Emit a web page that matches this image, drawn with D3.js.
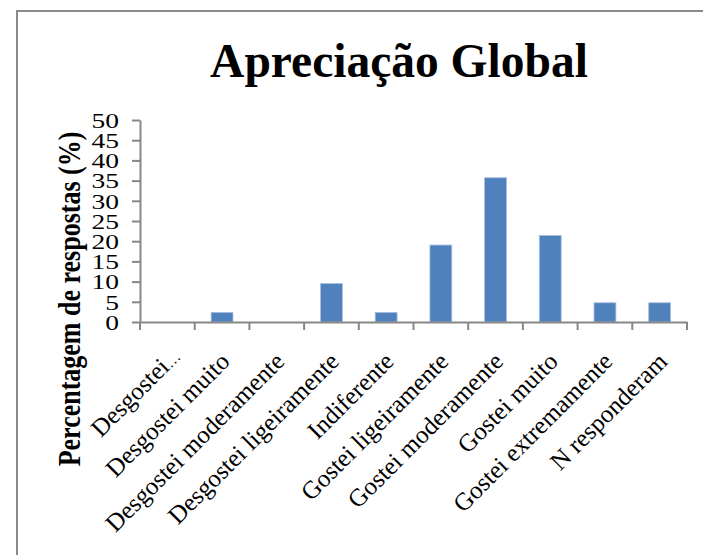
<!DOCTYPE html>
<html>
<head>
<meta charset="utf-8">
<script src="https://cdn.jsdelivr.net/npm/d3@7"></script>
<style>
  body { margin: 0; background: #fff; }
  svg { display: block; }
  text { font-family: "Liberation Serif", "Times New Roman", serif; fill: #000; }
</style>
</head>
<body>
<svg id="chart" width="703" height="555"></svg>
<script>
// Survey answers: share of respondents per rating (%)
const categories = [
  "Desgostei…",
  "Desgostei muito",
  "Desgostei moderamente",
  "Desgostei ligeiramente",
  "Indiferente",
  "Gostei ligeiramente",
  "Gostei moderamente",
  "Gostei muito",
  "Gostei extremamente",
  "N responderam"
];
const values = [0, 2.38, 0, 9.52, 2.38, 19.05, 35.71, 21.43, 4.76, 4.76];
const yTicks = [0, 5, 10, 15, 20, 25, 30, 35, 40, 45, 50];
const chartTitle = "Apreciação Global";
const yTitle = "Percentagem de respostas (%)";

const svg = d3.select("#chart");
const plot = { left: 140, right: 687, top: 120, bottom: 322 };
const axisColor = "#878787";

// outer chart frame
svg.append("rect")
  .attr("x", 17).attr("y", 11)
  .attr("width", 720).attr("height", 600)
  .attr("fill", "none")
  .attr("stroke", "#8a8a8a")
  .attr("stroke-width", 2);

const x = d3.scaleBand()
  .domain(categories)
  .range([plot.left, plot.right])
  .paddingInner(0).paddingOuter(0);

const y = d3.scaleLinear()
  .domain([0, 50])
  .range([plot.bottom, plot.top]);

// bars (gap width 150%)
const barW = x.bandwidth() / 2.5;
svg.append("g").selectAll("rect")
  .data(values)
  .join("rect")
  .attr("x", (d, i) => x(categories[i]) + (x.bandwidth() - barW) / 2)
  .attr("y", d => y(d))
  .attr("width", barW)
  .attr("height", d => y(0) - y(d))
  .attr("fill", "#4f81bd")
  .attr("stroke", "#a9c0df")
  .attr("stroke-width", 0.8)
  .attr("visibility", d => d > 0 ? "visible" : "hidden");

// y axis
const yAxis = svg.append("g")
  .attr("transform", `translate(${plot.left},0)`)
  .call(d3.axisLeft(y).tickValues(yTicks).tickSize(8).tickSizeOuter(0).tickFormat(""));
yAxis.select(".domain").attr("stroke", axisColor).attr("stroke-width", 2);
yAxis.selectAll(".tick line").attr("stroke", axisColor).attr("stroke-width", 2);

// y tick labels, set in a wide serif
svg.append("g").selectAll("text")
  .data(yTicks)
  .join("text")
  .attr("transform", d => `translate(119,${y(d)}) scale(1.25,1)`)
  .attr("dy", "0.35em")
  .attr("text-anchor", "end")
  .attr("font-size", 22)
  .text(d => d);

// x axis with ticks between categories
const xAxis = svg.append("g")
  .attr("transform", `translate(0,${plot.bottom})`)
  .call(d3.axisBottom(x).tickSize(0).tickFormat(""));
xAxis.select(".domain").attr("stroke", axisColor).attr("stroke-width", 2);
const bounds = categories.map(c => x(c)).concat([x.range()[1]]);
xAxis.selectAll(".bound")
  .data(bounds)
  .join("line")
  .attr("class", "bound")
  .attr("x1", d => d).attr("x2", d => d)
  .attr("y1", 0).attr("y2", 8)
  .attr("stroke", axisColor)
  .attr("stroke-width", 2);

// rotated category labels
const catLabels = svg.append("g").selectAll("text")
  .data(categories)
  .join("text")
  .attr("text-anchor", "end")
  .attr("font-size", 25)
  .attr("transform", (c, i) => `translate(${x(c) + x.bandwidth() / 2 + (i === 0 ? 14 : 9)},${plot.bottom + (i === 0 ? 36 : 41)}) rotate(-45)`);
catLabels.each(function (c) {
  const t = d3.select(this);
  if (c.endsWith("…")) {
    t.append("tspan").text(c.slice(0, -1));
    t.append("tspan").attr("font-size", 15).text("…");
  } else {
    t.text(c);
  }
});

// axis title
svg.append("text")
  .attr("transform", `translate(80,${(470 + 128) / 2}) scale(1.2,1) rotate(-90)`)
  .attr("text-anchor", "middle")
  .attr("font-size", 26)
  .attr("font-weight", "bold")
  .text(yTitle);

// chart title
svg.append("text")
  .attr("x", 399)
  .attr("y", 77)
  .attr("text-anchor", "middle")
  .attr("font-size", 47.5)
  .attr("font-weight", "bold")
  .text(chartTitle);
</script>
</body>
</html>
